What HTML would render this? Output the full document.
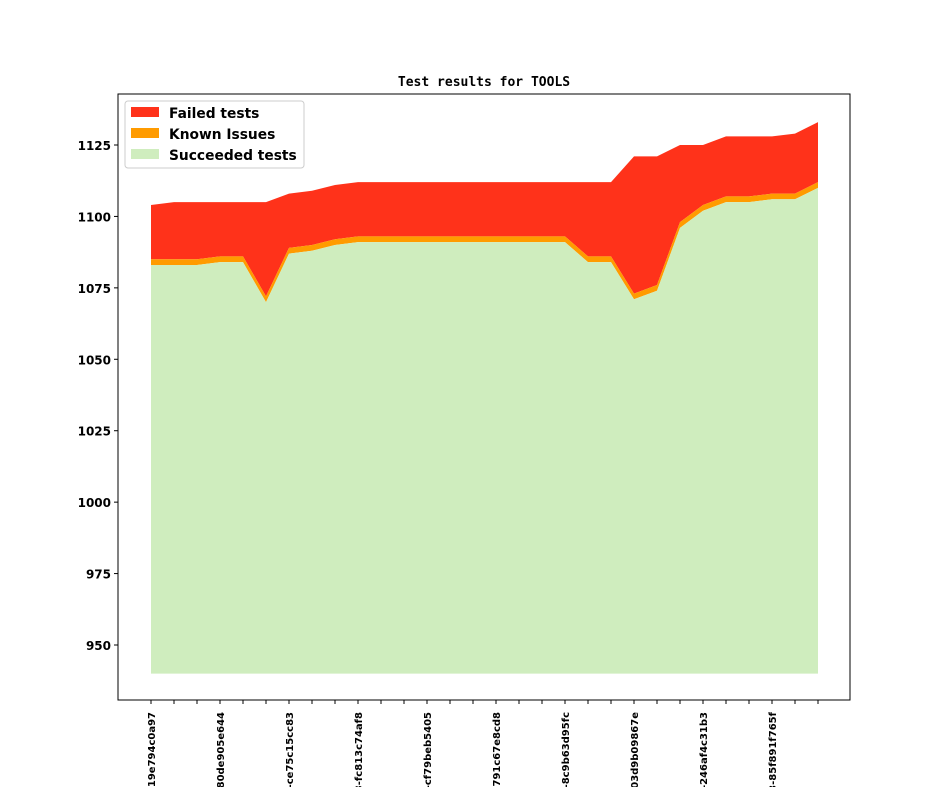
<!DOCTYPE html>
<html><head><meta charset="utf-8"><style>body{margin:0;background:#fff}svg{display:block}</style></head>
<body>
<svg id="s" width="944" height="787" xmlns="http://www.w3.org/2000/svg" font-family="DejaVu Sans, Liberation Sans, sans-serif">
<rect width="944" height="787" fill="#fff"/>
<text x="484" y="86" text-anchor="middle" font-family="DejaVu Sans Mono, Liberation Mono, monospace" font-weight="bold" font-size="13">Test results for TOOLS</text>
<g id="areas"></g>
<rect x="118" y="94" width="732" height="606" fill="none" stroke="#000" stroke-width="1"/>
<g id="axes" font-weight="bold" font-size="12"></g>
<g>
<rect x="125" y="101" width="179" height="67" fill="#fff" stroke="#ccc" rx="3"/>
<rect x="131" y="107" width="28" height="10" fill="#ff321a"/>
<rect x="131" y="128" width="28" height="10" fill="#ff9b00"/>
<rect x="131" y="149" width="28" height="10" fill="#cfedbe"/>
<text x="169" y="118" font-weight="bold" font-size="13.8">Failed tests</text>
<text x="169" y="139" font-weight="bold" font-size="13.8">Known Issues</text>
<text x="169" y="160" font-weight="bold" font-size="13.8">Succeeded tests</text>
</g>
</svg>
<script>
const F=[1104,1105,1105,1105,1105,1105,1108,1109,1111,1112,1112,1112,1112,1112,1112,1112,1112,1112,1112,1112,1112,1121,1121,1125,1125,1128,1128,1128,1129,1133];
const K=[1085,1085,1085,1086,1086,1072,1089,1090,1092,1093,1093,1093,1093,1093,1093,1093,1093,1093,1093,1086,1086,1073,1076,1098,1104,1107,1107,1108,1108,1112];
const S=K.map(v=>v-2);
const X=i=>151+i*(667/29), Y=v=>645-(v-950)*500/175;
function poly(top,bot,col){let p=top.map((v,i)=>X(i)+','+Y(v));for(let i=bot.length-1;i>=0;i--)p.push(X(i)+','+Y(bot[i]));return `<polygon points="${p.join(' ')}" fill="${col}"/>`;}
const base=S.map(()=>940);
document.getElementById('areas').innerHTML=poly(F,K,'#ff321a')+poly(K,S,'#ff9b00')+poly(S,base,'#cfedbe');
let a='';
for(let v=950;v<=1125;v+=25){const y=Y(v);a+=`<line x1="114" x2="118" y1="${y}" y2="${y}" stroke="#000"/><text x="111" y="${y+5}" text-anchor="end">${v}</text>`;}
const L=['-19e794c0a97','80de905e644','-ce75c15cc83','3-fc813c74af8','-cf79beb5405','791c67e8cd8','-8c9b63d95fc','03d9b09867e','-246af4c31b3','3-85f891f765f'];
for(let i=0;i<30;i++){const x=X(i);a+=`<line x1="${x}" x2="${x}" y1="700" y2="704" stroke="#000"/>`;if(i%3==0){a+=`<text transform="translate(${x+4},712) rotate(-90)" text-anchor="end" font-size="10">${L[i/3]}</text>`;}}
document.getElementById('axes').innerHTML=a;
</script>
</body></html>
